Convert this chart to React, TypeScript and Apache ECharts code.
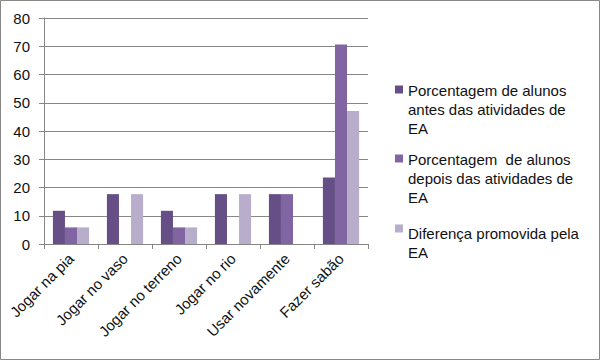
import React, { useEffect, useRef } from "react";
import * as echarts from "echarts";

const categories = ["Jogar na pia", "Jogar no vaso", "Jogar no terreno", "Jogar no rio", "Usar novamente", "Fazer sabão"];
const antes = [11.76, 17.65, 11.76, 17.65, 17.65, 23.53];
const depois = [5.88, 0, 5.88, 0, 17.65, 70.59];
const diferenca = [5.88, 17.65, 5.88, 17.65, 0, 47.06];
const seriesNames = [
  "Porcentagem de alunos\nantes das atividades de\nEA",
  "Porcentagem  de alunos\ndepois das atividades de\nEA",
  "Diferença promovida pela\nEA",
];
const colors = ["#664F86", "#8065A2", "#B8AECC"];
const yTicks = [0, 10, 20, 30, 40, 50, 60, 70, 80];

export default function App() {
  const ref = useRef<HTMLDivElement>(null);
  useEffect(() => {
    if (!ref.current) return;
    const chart = echarts.init(ref.current, null, { renderer: "svg" });
    const font = "'Liberation Sans', Arial, sans-serif";
    const icon3 = "path://M0,0h8v8h-8Z M0,48h0.01";
    const icon2 = "path://M0,5.5h8v8h-8Z M0,0h0.01 M0,48h0.01";
    chart.setOption({
      animation: false,
      textStyle: { fontFamily: font },
      graphic: [
        {
          type: "rect",
          shape: { x: 0.5, y: 0.5, width: 599, height: 359 },
          style: { fill: "none", stroke: "#888888", lineWidth: 1 },
          silent: true,
        },
      ],
      grid: { left: 44, top: 18, right: 232, bottom: 116, containLabel: false },
      legend: {
        orient: "vertical",
        left: 390,
        top: 76,
        itemWidth: 8,
        itemHeight: 48,
        itemGap: 12,
        selectedMode: false,
        textStyle: { fontSize: 15, lineHeight: 19, color: "#111", fontFamily: font },
        data: [
          { name: seriesNames[0], icon: icon3 },
          { name: seriesNames[1], icon: icon3 },
          {
            name: seriesNames[2],
            icon: icon2,
            textStyle: { fontSize: 15, lineHeight: 19, color: "#111", fontFamily: font, padding: [0, 0, 10, 0] },
          },
        ],
      },
      xAxis: {
        type: "category",
        data: categories,
        axisLine: { lineStyle: { color: "#868686", width: 1 } },
        axisTick: { show: true, length: 5, lineStyle: { color: "#868686" } },
        axisLabel: { rotate: 45, fontSize: 15, color: "#111", margin: 12, interval: 0 },
      },
      yAxis: {
        type: "value",
        min: 0,
        max: 80,
        interval: 10,
        axisLine: { show: true, lineStyle: { color: "#868686", width: 1 } },
        axisTick: { show: true, length: 5, lineStyle: { color: "#868686" } },
        splitLine: { lineStyle: { color: "#868686", width: 1 } },
        axisLabel: {
          fontSize: 15,
          color: "#111",
          margin: 14,
          formatter: (v: number) => (yTicks.includes(v) ? String(v) : ""),
        },
      },
      series: [
        { name: seriesNames[0], type: "bar", data: antes, itemStyle: { color: colors[0] }, barGap: "0%", barCategoryGap: "33%" },
        { name: seriesNames[1], type: "bar", data: depois, itemStyle: { color: colors[1] }, barGap: "0%", barCategoryGap: "33%" },
        { name: seriesNames[2], type: "bar", data: diferenca, itemStyle: { color: colors[2] }, barGap: "0%", barCategoryGap: "33%" },
      ],
    });
    return () => chart.dispose();
  }, []);
  return (
    <div
      ref={ref}
      style={{ position: "fixed", left: 0, top: 0, width: 600, height: 360, background: "#fff" }}
    />
  );
}
